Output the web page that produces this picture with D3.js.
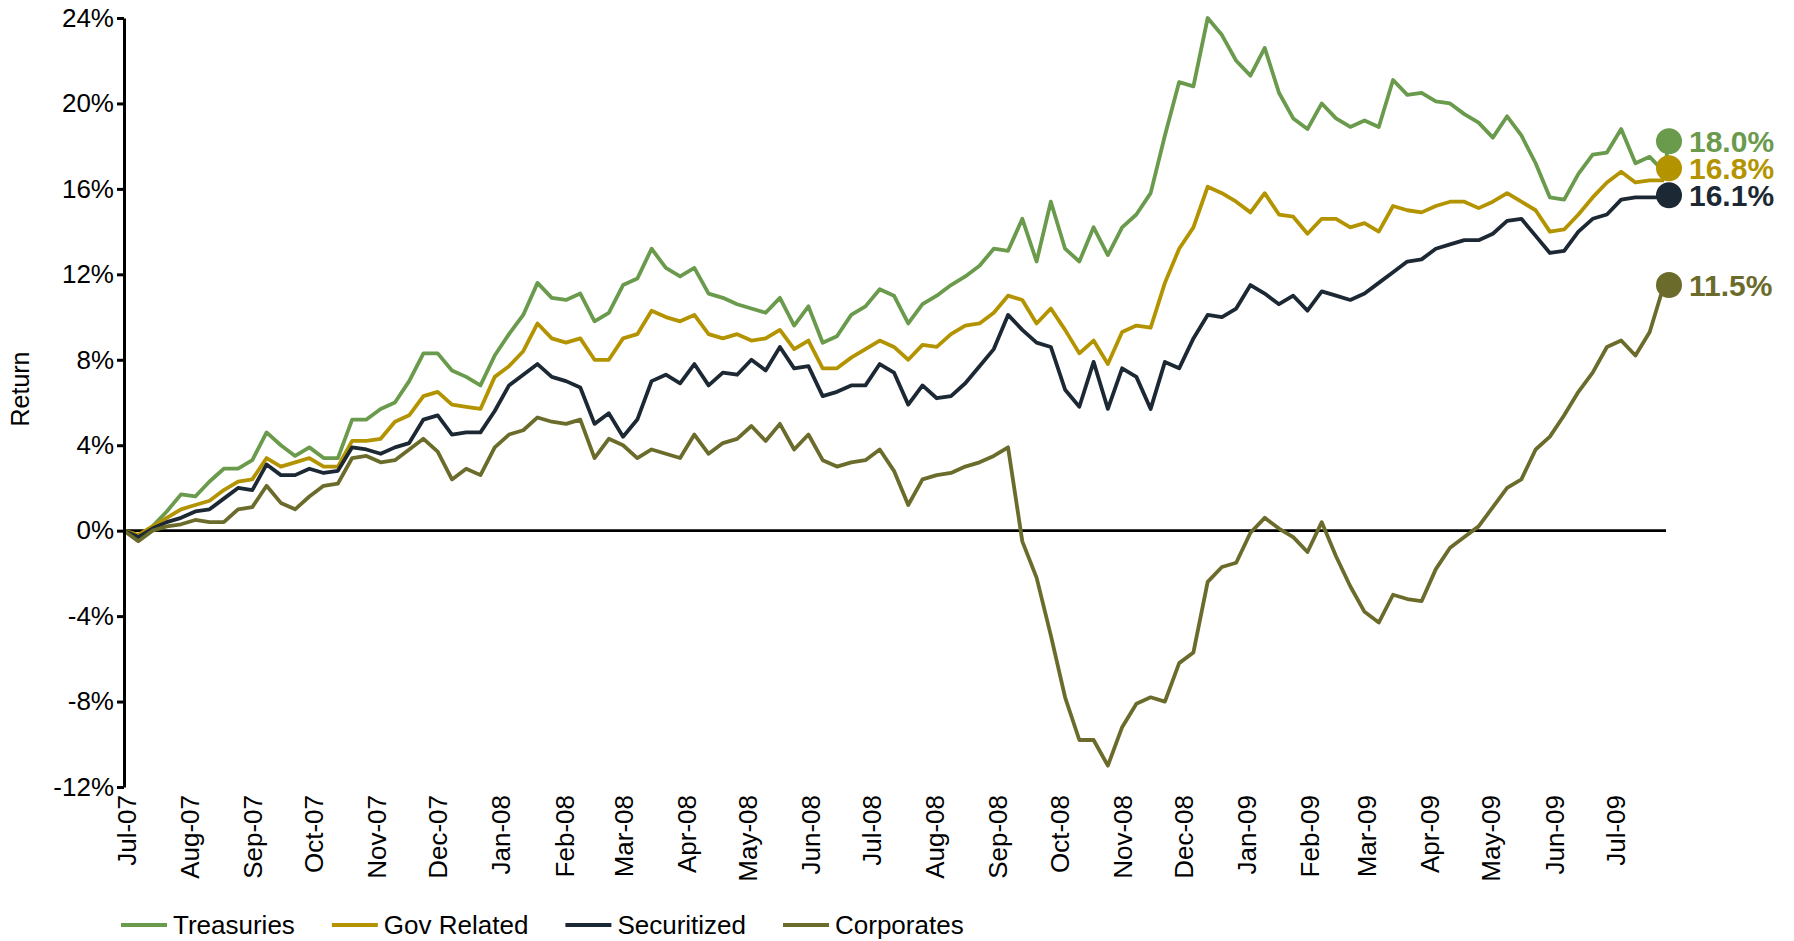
<!DOCTYPE html>
<meta charset="utf-8">
<script src="https://cdn.jsdelivr.net/npm/d3@7"></script>
<style>
  body { margin: 0; background: #fff; }
  text { font-family: "Liberation Sans", Arial, sans-serif; }
</style>
<div id="chart"></div>
<script>
// weekly cumulative returns (%), first observation 30 Jun 2007
var startDate = "2007-06-30";

var treasuries = [
  0, -0.3, 0.2, 0.9, 1.7, 1.6, 2.3, 2.9, 2.9, 3.3,
  4.6, 4.0, 3.5, 3.9, 3.4, 3.4, 5.2, 5.2, 5.7, 6.0,
  7.0, 8.3, 8.3, 7.5, 7.2, 6.8, 8.2, 9.2, 10.1, 11.6,
  10.9, 10.8, 11.1, 9.8, 10.2, 11.5, 11.8, 13.2, 12.3, 11.9,
  12.3, 11.1, 10.9, 10.6, 10.4, 10.2, 10.9, 9.6, 10.5, 8.8,
  9.1, 10.1, 10.5, 11.3, 11.0, 9.7, 10.6, 11.0, 11.5, 11.9,
  12.4, 13.2, 13.1, 14.6, 12.6, 15.4, 13.2, 12.6, 14.2, 12.9,
  14.2, 14.8, 15.8, 18.5, 21.0, 20.8, 24.0, 23.2, 22.0, 21.3,
  22.6, 20.5, 19.3, 18.8, 20.0, 19.3, 18.9, 19.2, 18.9, 21.1,
  20.4, 20.5, 20.1, 20.0, 19.5, 19.1, 18.4, 19.4, 18.5, 17.2,
  15.6, 15.5, 16.7, 17.6, 17.7, 18.8, 17.2, 17.5, 16.8
];

var govRelated = [
  0, -0.2, 0.2, 0.6, 1.0, 1.2, 1.4, 1.9, 2.3, 2.4,
  3.4, 3.0, 3.2, 3.4, 3.0, 3.0, 4.2, 4.2, 4.3, 5.1,
  5.4, 6.3, 6.5, 5.9, 5.8, 5.7, 7.2, 7.7, 8.4, 9.7,
  9.0, 8.8, 9.0, 8.0, 8.0, 9.0, 9.2, 10.3, 10.0, 9.8,
  10.1, 9.2, 9.0, 9.2, 8.9, 9.0, 9.4, 8.5, 8.9, 7.6,
  7.6, 8.1, 8.5, 8.9, 8.6, 8.0, 8.7, 8.6, 9.2, 9.6,
  9.7, 10.2, 11.0, 10.8, 9.7, 10.4, 9.4, 8.3, 8.9, 7.8,
  9.3, 9.6, 9.5, 11.6, 13.2, 14.2, 16.1, 15.8, 15.4, 14.9,
  15.8, 14.8, 14.7, 13.9, 14.6, 14.6, 14.2, 14.4, 14.0, 15.2,
  15.0, 14.9, 15.2, 15.4, 15.4, 15.1, 15.4, 15.8, 15.4, 15.0,
  14.0, 14.1, 14.8, 15.6, 16.3, 16.8, 16.3, 16.4, 16.4
];

var securitized = [
  0, -0.3, 0.1, 0.4, 0.6, 0.9, 1.0, 1.5, 2.0, 1.9,
  3.1, 2.6, 2.6, 2.9, 2.7, 2.8, 3.9, 3.8, 3.6, 3.9,
  4.1, 5.2, 5.4, 4.5, 4.6, 4.6, 5.6, 6.8, 7.3, 7.8,
  7.2, 7.0, 6.7, 5.0, 5.5, 4.4, 5.2, 7.0, 7.3, 6.9,
  7.8, 6.8, 7.4, 7.3, 8.0, 7.5, 8.6, 7.6, 7.7, 6.3,
  6.5, 6.8, 6.8, 7.8, 7.4, 5.9, 6.8, 6.2, 6.3, 6.9,
  7.7, 8.5, 10.1, 9.4, 8.8, 8.6, 6.6, 5.8, 7.9, 5.7,
  7.6, 7.2, 5.7, 7.9, 7.6, 9.0, 10.1, 10.0, 10.4, 11.5,
  11.1, 10.6, 11.0, 10.3, 11.2, 11.0, 10.8, 11.1, 11.6, 12.1,
  12.6, 12.7, 13.2, 13.4, 13.6, 13.6, 13.9, 14.5, 14.6, 13.8,
  13.0, 13.1, 14.0, 14.6, 14.8, 15.5, 15.6, 15.6, 15.6
];

var corporates = [
  0, -0.5, 0.0, 0.2, 0.3, 0.5, 0.4, 0.4, 1.0, 1.1,
  2.1, 1.3, 1.0, 1.6, 2.1, 2.2, 3.4, 3.5, 3.2, 3.3,
  3.8, 4.3, 3.7, 2.4, 2.9, 2.6, 3.9, 4.5, 4.7, 5.3,
  5.1, 5.0, 5.2, 3.4, 4.3, 4.0, 3.4, 3.8, 3.6, 3.4,
  4.5, 3.6, 4.1, 4.3, 4.9, 4.2, 5.0, 3.8, 4.5, 3.3,
  3.0, 3.2, 3.3, 3.8, 2.8, 1.2, 2.4, 2.6, 2.7, 3.0,
  3.2, 3.5, 3.9, -0.5, -2.2, -4.9, -7.8, -9.8, -9.8, -11.0,
  -9.2, -8.1, -7.8, -8.0, -6.2, -5.7, -2.4, -1.7, -1.5, -0.1,
  0.6, 0.1, -0.3, -1.0, 0.4, -1.2, -2.6, -3.8, -4.3, -3.0,
  -3.2, -3.3, -1.8, -0.8, -0.3, 0.2, 1.1, 2.0, 2.4, 3.8,
  4.4, 5.4, 6.5, 7.4, 8.6, 8.9, 8.2, 9.3, 11.5
];

var seriesNames = ["Treasuries", "Gov Related", "Securitized", "Corporates"];
var seriesColors = ["#6a9a4c", "#b39400", "#1c2834", "#6b6c2b"];
var endLabels = ["18.0%", "16.8%", "16.1%", "11.5%"];
var yTicks = [-12, -8, -4, 0, 4, 8, 12, 16, 20, 24];

var width = 1794, height = 941;

var svg = d3.select("#chart")
  .append("svg")
    .attr("width", width)
    .attr("height", height);

var parse = d3.timeParse("%Y-%m-%d");
var start = parse(startDate);

var seriesValues = [treasuries, govRelated, securitized, corporates];
var series = seriesValues.map(function(vals, i) {
  return {
    name: seriesNames[i],
    color: seriesColors[i],
    label: endLabels[i],
    values: vals.map(function(v, k) { return {date: d3.timeDay.offset(start, 7 * k), value: v}; })
  };
});

var x = d3.scaleTime()
  .domain([parse("2007-06-30"), parse("2009-07-26")])
  .range([124, 1666]);

var y = d3.scaleLinear()
  .domain([-12, 24])
  .range([787, 18]);

// zero line
svg.append("line")
  .attr("x1", x.range()[0])
  .attr("x2", x.range()[1])
  .attr("y1", y(0))
  .attr("y2", y(0))
  .attr("stroke", "#000")
  .attr("stroke-width", 2.6);

var line = d3.line()
  .x(function(d) { return x(d.date); })
  .y(function(d) { return y(d.value); });

svg.selectAll(".series")
  .data(series)
  .enter()
  .append("path")
    .attr("class", "series")
    .attr("d", function(d) { return line(d.values); })
    .attr("fill", "none")
    .attr("stroke", function(d) { return d.color; })
    .attr("stroke-width", 3.8)
    .attr("stroke-linejoin", "round");

// end markers, nudged apart so they don't overlap
var markerX = x.range()[1] + 3;
var ends = series.map(function(s) {
  return {s: s, y: y(parseFloat(s.label))};
});
var sorted = ends.slice().sort(function(a, b) { return a.y - b.y; });
for (var it = 0; it < 60; it++) {
  for (var j = 1; j < sorted.length; j++) {
    var gap = sorted[j].y - sorted[j - 1].y;
    if (gap < 27) {
      var d = (27 - gap) / 2;
      sorted[j].y += d;
      sorted[j - 1].y -= d;
    }
  }
}

var endG = svg.selectAll(".end")
  .data(ends)
  .enter()
  .append("g")
    .attr("class", "end");

endG.append("line")
  .attr("x1", function(d) { var last = d.s.values[d.s.values.length - 1]; return x(last.date); })
  .attr("y1", function(d) { var last = d.s.values[d.s.values.length - 1]; return y(last.value); })
  .attr("x2", markerX)
  .attr("y2", function(d) { return d.y; })
  .attr("stroke", function(d) { return d.s.color; })
  .attr("stroke-width", 3.8);

endG.append("circle")
  .attr("cx", markerX)
  .attr("cy", function(d) { return d.y; })
  .attr("r", 13)
  .attr("fill", function(d) { return d.s.color; });

endG.append("text")
  .attr("x", markerX + 20)
  .attr("y", function(d) { return d.y; })
  .attr("dy", "0.35em")
  .attr("font-size", "30px")
  .attr("font-weight", "bold")
  .attr("fill", function(d) { return d.s.color; })
  .text(function(d) { return d.s.label; });

// Y axis
var yAxis = svg.append("g")
  .attr("transform", "translate(124,0)")
  .call(d3.axisLeft(y).tickValues(yTicks).tickSize(7).tickSizeOuter(0).tickPadding(3)
    .tickFormat(function(d) { return d + "%"; }));

yAxis.select(".domain").attr("stroke-width", 3);
yAxis.selectAll(".tick line").attr("stroke-width", 3);
yAxis.selectAll("text")
  .attr("font-family", "Liberation Sans, Arial, sans-serif")
  .attr("font-size", "26px")
  .attr("fill", "#000");

// X axis labels (month ticks, no axis line)
var xAxis = svg.append("g")
  .attr("transform", "translate(0,795)")
  .call(d3.axisBottom(x).ticks(d3.timeMonth.every(1)).tickSize(0)
    .tickFormat(d3.timeFormat("%b-%y")));

xAxis.select(".domain").remove();
xAxis.selectAll("text")
  .attr("font-family", "Liberation Sans, Arial, sans-serif")
  .attr("font-size", "26px")
  .attr("fill", "#000")
  .attr("transform", "rotate(-90)")
  .attr("text-anchor", "end")
  .attr("x", 0)
  .attr("y", 0)
  .attr("dy", "0.35em");

// Y axis title
svg.append("text")
  .attr("transform", "translate(29,389) rotate(-90)")
  .attr("text-anchor", "middle")
  .attr("font-size", "25px")
  .attr("fill", "#000")
  .text("Return");

// legend
var legendX = 121;
series.forEach(function(s) {
  var g = svg.append("g").attr("transform", "translate(" + legendX + ",925)");
  g.append("line")
    .attr("x1", 0).attr("x2", 46)
    .attr("y1", 0).attr("y2", 0)
    .attr("stroke", s.color)
    .attr("stroke-width", 4);
  var t = g.append("text")
    .attr("x", 52)
    .attr("dy", "0.35em")
    .attr("font-size", "26px")
    .attr("fill", "#000")
    .text(s.name);
  legendX += 52 + t.node().getComputedTextLength() + 37;
});
</script>
